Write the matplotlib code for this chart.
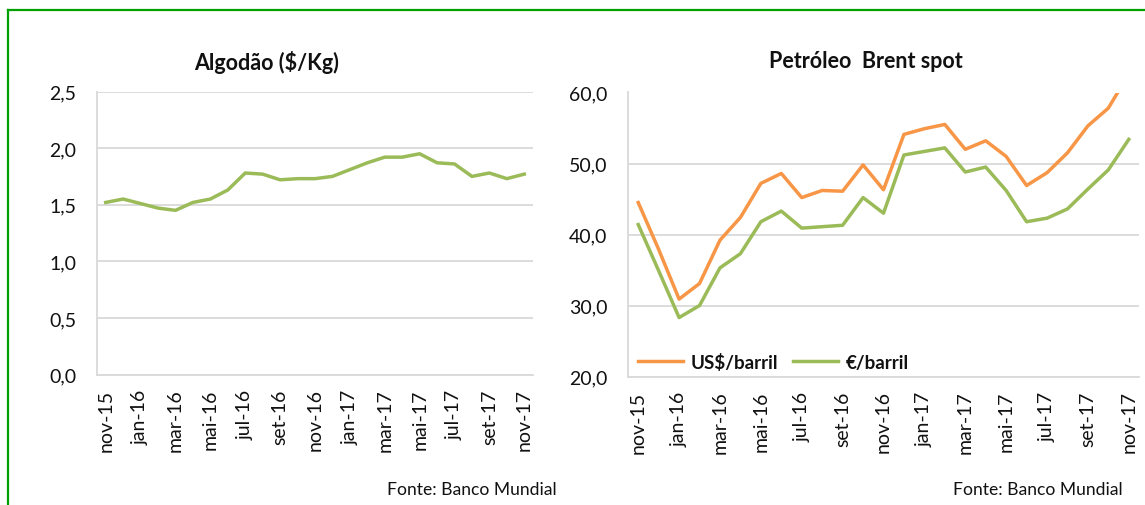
import numpy as np
import matplotlib
matplotlib.use('Agg')
import matplotlib.pyplot as plt
from matplotlib.lines import Line2D
from matplotlib.ticker import FuncFormatter

plt.rcParams['font.family'] = ['Lato', 'DejaVu Sans']

months = ['nov-15', 'dez-15', 'jan-16', 'fev-16', 'mar-16', 'abr-16', 'mai-16',
          'jun-16', 'jul-16', 'ago-16', 'set-16', 'out-16', 'nov-16', 'dez-16',
          'jan-17', 'fev-17', 'mar-17', 'abr-17', 'mai-17', 'jun-17', 'jul-17',
          'ago-17', 'set-17', 'out-17', 'nov-17']

algodao = [1.52, 1.55, 1.51, 1.47, 1.45, 1.52, 1.55, 1.63, 1.78, 1.77, 1.72,
           1.73, 1.73, 1.75, 1.81, 1.87, 1.92, 1.92, 1.95, 1.87, 1.86, 1.75,
           1.78, 1.73, 1.77]

brent_usd = [44.5, 37.9, 30.9, 33.1, 39.2, 42.4, 47.2, 48.6, 45.2, 46.2, 46.1,
             49.8, 46.3, 54.1, 54.9, 55.5, 52.0, 53.2, 51.0, 46.9, 48.7, 51.5,
             55.3, 57.8, 62.6]

brent_eur = [41.4, 34.9, 28.3, 30.0, 35.3, 37.3, 41.8, 43.3, 40.9, 41.1, 41.3,
             45.2, 43.0, 51.2, 51.7, 52.2, 48.8, 49.5, 46.2, 41.8, 42.3, 43.6,
             46.4, 49.1, 53.4]

ORANGE = '#F79646'
GREEN = '#9BBB59'
GRID = '#D9D9D9'
TXT = '#111111'

W, H = 1145, 506
fig = plt.figure(figsize=(W / 100, H / 100), dpi=100)


def px_axes(x0, x1, ytop, ybot):
    return fig.add_axes([x0 / W, (H - ybot) / H, (x1 - x0) / W, (ybot - ytop) / H])


def style(ax, ylim, yticks):
    x = np.arange(len(months))
    ax.set_xlim(-0.5, len(months) - 0.5)
    ax.set_ylim(*ylim)
    ax.set_yticks(yticks)
    ax.yaxis.set_major_formatter(FuncFormatter(lambda v, p: '{:.1f}'.format(v).replace('.', ',')))
    ax.set_xticks(x[::2])
    ax.set_xticklabels(months[::2], rotation=90)
    ax.grid(axis='y', color=GRID, linewidth=1.3)
    ax.set_axisbelow(True)
    for s in ['top', 'right']:
        ax.spines[s].set_visible(False)
    for s in ['left', 'bottom']:
        ax.spines[s].set_color(GRID)
        ax.spines[s].set_linewidth(1.3)
    ax.tick_params(axis='y', length=0, pad=15, labelsize=14, labelcolor=TXT)
    ax.tick_params(axis='x', length=0, pad=10, labelsize=14, labelcolor=TXT)
    return x


# Algodão
ax1 = px_axes(97, 533, 92.5, 375.5)
x = style(ax1, (0, 2.5), np.arange(0, 2.51, 0.5))
ax1.plot(x, algodao, color=GREEN, linewidth=2.5, solid_joinstyle='round')

# Petróleo Brent
ax2 = px_axes(628, 1139, 93.5, 377.5)
x = style(ax2, (20, 60), np.arange(20, 60.1, 10))
ax2.plot(x, brent_usd, color=ORANGE, linewidth=2.5, label='US$/barril')
ax2.plot(x, brent_eur, color=GREEN, linewidth=2.5, label='€/barril')
ax2.legend(loc='lower left', ncol=2, frameon=False, bbox_to_anchor=(-0.013, -0.04),
           prop={'weight': 'bold', 'size': 13.5}, handlelength=2.4,
           columnspacing=0.8, handletextpad=0.4, labelcolor=TXT)

fig.text(267 / W, 1 - 62 / H, 'Algodão ($/Kg)', ha='center', va='center',
         fontsize=15.5, fontweight='bold', color=TXT)
fig.text(866 / W, 1 - 62 / H, 'Petróleo  Brent spot', ha='center', va='center',
         fontsize=15.5, fontweight='bold', color=TXT)

fig.text(557 / W, 1 - 490 / H, 'Fonte: Banco Mundial', ha='right', va='center',
         fontsize=12.6, color=TXT)
fig.text(1123 / W, 1 - 490 / H, 'Fonte: Banco Mundial', ha='right', va='center',
         fontsize=12.6, color=TXT)

# green frame
fig.add_artist(Line2D([8 / W, 8 / W], [0, 1 - 11 / H], color='#00A000', linewidth=1.6))
fig.add_artist(Line2D([8 / W, 1], [1 - 11 / H, 1 - 11 / H], color='#00A000', linewidth=1.6))

fig.savefig('out.png', dpi=100)
